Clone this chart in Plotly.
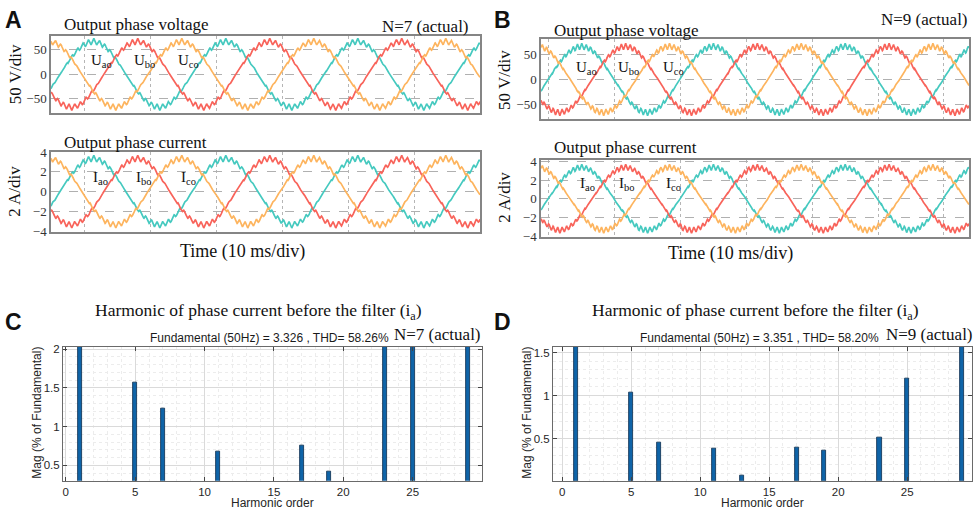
import numpy as np
import plotly.graph_objects as go

W, H = 976, 516

# ---------------- data ----------------
PHASE_NAMES = ["ao", "bo", "co"]
PHASE_COLORS = ["#45C9BF", "#F8635A", "#FDB45E"]
PERIOD_MS = 20.0                       # 50 Hz fundamental
PEAK_TIME_A_MS = [6.37, 13.03, 19.70]  # time of each phase's peak (panel A)
PEAK_TIME_B_MS = [6.10, 12.77, 19.43]  # time of each phase's peak (panel B)
VOLT_AMP = [67.0, 67.0]                # fundamental amplitude, V  (A, B)
CURR_AMP = [3.35, 3.35]                # fundamental amplitude, A  (A, B)
RIPPLE_ORDER_A = [23, 25]
RIPPLE_ORDER_B = [29, 31]
RIPPLE_FRAC = [0.055, 0.045]           # ripple amplitude as fraction of fundamental
TIME_RANGE_MS = [0, 65]
GRID_T_A = [5, 15, 25, 35, 45, 55]
GRID_T_B = [1.2, 11.2, 21.2, 31.2, 41.2, 51.2, 61.2]
V_TICKS = [-50, 0, 50]
I_TICKS = [-4, -2, 0, 2, 4]

HARM_ORDER_C = [1, 5, 7, 11, 17, 19, 23, 25, 29]
HARM_MAG_C = [100, 1.57, 1.24, 0.68, 0.75, 0.42, 33.0, 35.0, 32.0]
HARM_ORDER_D = [1, 5, 7, 11, 13, 17, 19, 23, 25, 29]
HARM_MAG_D = [100, 1.04, 0.46, 0.38, 0.075, 0.394, 0.364, 0.511, 1.204, 58.0]
FUND_C, THD_C = 3.326, 58.26
FUND_D, THD_D = 3.351, 58.20

SERIF = "Liberation Serif"
SANS = "Liberation Sans"

def px(x):
    return x / W

def py(y):
    return 1 - y / H

t = np.linspace(TIME_RANGE_MS[0], TIME_RANGE_MS[1], 5000)

def tri(a):
    return (2 / np.pi) * np.arcsin(np.sin(a))

def wave(amp, peak_ms, orders):
    th = 2 * np.pi * (t - peak_ms) / PERIOD_MS
    r = np.zeros_like(t)
    for k, f in zip(orders, RIPPLE_FRAC):
        r += f * amp * tri(k * th + 0.7)
    return amp * np.cos(th) + r

fig = go.Figure()

panels = [
    (1, VOLT_AMP[0], PEAK_TIME_A_MS, RIPPLE_ORDER_A, [-79, 78], V_TICKS, (51, 480), (30, 109), GRID_T_A),
    (2, CURR_AMP[0], PEAK_TIME_A_MS, RIPPLE_ORDER_A, [-4.05, 4.02], I_TICKS, (51, 480), (149, 231), GRID_T_A),
    (3, VOLT_AMP[1], PEAK_TIME_B_MS, RIPPLE_ORDER_B, [-80, 82], V_TICKS, (541, 969), (33, 115), GRID_T_B),
    (4, CURR_AMP[1], PEAK_TIME_B_MS, RIPPLE_ORDER_B, [-4.03, 4.16], I_TICKS, (541, 969), (157, 236), GRID_T_B),
]

layout_axes = {}
for idx, amp, peaks, orders, yr, ticks, dx, dy, grid in panels:
    for name, color, pk in zip(PHASE_NAMES, PHASE_COLORS, peaks):
        fig.add_trace(go.Scatter(
            x=t, y=wave(amp, pk, orders), mode="lines",
            line=dict(color=color, width=1.7), xaxis=f"x{idx}", yaxis=f"y{idx}",
            showlegend=False, hoverinfo="skip"))
    layout_axes[f"xaxis{idx}"] = dict(
        domain=[px(dx[0]), px(dx[1])], anchor=f"y{idx}", range=TIME_RANGE_MS,
        tickvals=grid, showticklabels=False, ticks="", showgrid=True,
        gridcolor="#b5b5b5", griddash="dot", gridwidth=1, zeroline=False,
        showline=True, mirror=True, linecolor="#858585", linewidth=1.5)
    layout_axes[f"yaxis{idx}"] = dict(
        domain=[py(dy[1]), py(dy[0])], anchor=f"x{idx}", range=yr,
        tickvals=ticks, ticks="", showgrid=True, gridcolor="#b0b0b0",
        griddash="dash", gridwidth=1, zeroline=False, showline=True, mirror=True,
        linecolor="#858585", linewidth=1.5,
        tickfont=dict(family=SERIF, size=13, color="#333"))

bar_panels = [
    (5, HARM_ORDER_C, HARM_MAG_C, [-0.2, 30.0], [0.3, 2.035], [0.5, 1, 1.5, 2], (63, 482)),
    (6, HARM_ORDER_D, HARM_MAG_D, [-0.67, 29.7], [0.01, 1.57], [0.5, 1, 1.5], (553, 972)),
]
for idx, orders, mags, xr, yr, yt, dx in bar_panels:
    fig.add_trace(go.Bar(
        x=orders, y=mags, width=0.3, xaxis=f"x{idx}", yaxis=f"y{idx}",
        marker=dict(color="#0F64A8", line=dict(color="#0b2c4c", width=0.8)),
        showlegend=False, hoverinfo="skip"))
    layout_axes[f"xaxis{idx}"] = dict(
        domain=[px(dx[0]), px(dx[1])], anchor=f"y{idx}", range=xr,
        tickvals=[0, 5, 10, 15, 20, 25], ticks="inside", ticklen=4, tickcolor="#444",
        showgrid=True, gridcolor="#dadada", gridwidth=1, zeroline=False,
        minor=dict(dtick=1, showgrid=True, gridcolor="#ececec", gridwidth=1, griddash="dot"),
        showline=True, mirror="ticks", linecolor="#6a6a6a", linewidth=1,
        tickfont=dict(family=SANS, size=11.5, color="#262626"))
    layout_axes[f"yaxis{idx}"] = dict(
        domain=[py(487), py(349)], anchor=f"x{idx}", range=yr,
        tickvals=yt, ticks="inside", ticklen=4, tickcolor="#444",
        showgrid=True, gridcolor="#dadada", gridwidth=1, zeroline=False,
        minor=dict(dtick=0.1, showgrid=True, gridcolor="#ececec", gridwidth=1, griddash="dot"),
        showline=True, mirror="ticks", linecolor="#6a6a6a", linewidth=1,
        tickfont=dict(family=SANS, size=11.5, color="#262626"))

ann = []

def text(x, y, s, size, family=SERIF, xanchor="center", angle=0, bold=False, color="#111"):
    ann.append(dict(x=px(x), y=py(y), xref="paper", yref="paper", text=(f"<b>{s}</b>" if bold else s),
                    showarrow=False, xanchor=xanchor, yanchor="middle", textangle=angle,
                    font=dict(family=family, size=size, color=color)))

for (lx, ly, L) in [(3, 13, "A"), (492, 13, "B"), (3, 324, "C"), (492, 324, "D")]:
    text(lx, ly, L, 23, family=SANS, xanchor="left", bold=True)

text(62, 18, "Output phase voltage", 17, xanchor="left")
text(471, 20, "N=7 (actual)", 17, xanchor="right")
text(15, 69, "50 V/div", 17, angle=-90)
text(62, 139, "Output phase current", 17, xanchor="left")
text(15, 190, "2 A/div", 17, angle=-90)
text(242, 251, "Time (10 ms/div)", 18)

text(552, 24, "Output phase voltage", 17, xanchor="left")
text(970, 13, "N=9 (actual)", 17, xanchor="right")
text(505, 75, "50 V/div", 17, angle=-90)
text(552, 144, "Output phase current", 17, xanchor="left")
text(505, 196, "2 A/div", 17, angle=-90)
text(730, 253, "Time (10 ms/div)", 18)

sym_pos = [
    ("U", [101, 144, 188], 56), ("I", [100, 144, 188], 176),
    ("U", [586, 628, 673], 63), ("I", [587, 627, 673], 182),
]
for sym, xs, yy in sym_pos:
    for name, xx in zip(PHASE_NAMES, xs):
        text(xx, yy, f"{sym}<sub>{name}</sub>", 15)

for cx, sx, nx, name, fund, thd, ylx, xlx in [
        (258, 269, 483, "N=7 (actual)", FUND_C, THD_C, 37, 272),
        (755, 759, 975, "N=9 (actual)", FUND_D, THD_D, 527, 762)]:
    text(cx, 313, "Harmonic of phase current before the filter (i<sub>a</sub>)", 17.5)
    text(sx, 340, f"Fundamental (50Hz) = {fund:.3f} , THD= {thd:.2f}%", 12, family=SANS, color="#1a1a1a")
    text(nx, 337, name, 17, xanchor="right")
    text(ylx, 417, "Mag (% of Fundamental)", 12, family=SANS, angle=-90, color="#262626")
    text(xlx, 510, "Harmonic order", 12, family=SANS, color="#262626")

fig.update_layout(
    width=W, height=H, margin=dict(l=0, r=0, t=0, b=0),
    paper_bgcolor="white", plot_bgcolor="white", annotations=ann,
    bargap=0, **layout_axes)

fig.write_html(
    "out.html",
    config={"displayModeBar": False},
    post_script="document.body.style.margin='0';document.body.style.padding='0';"
                "document.body.style.overflow='hidden';")
